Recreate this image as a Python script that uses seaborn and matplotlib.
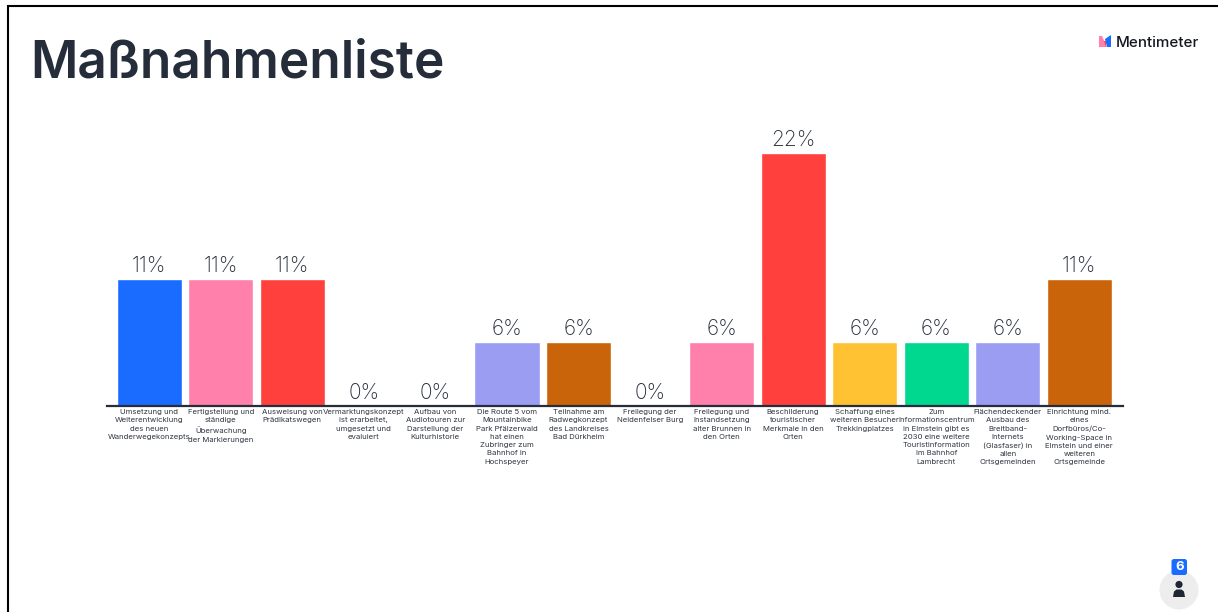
import matplotlib
matplotlib.use("Agg")
import matplotlib.pyplot as plt
from matplotlib.patches import Circle, FancyBboxPatch, Polygon
import pandas as pd
import seaborn as sns

options = [
    "Umsetzung und\nWeiterentwicklung\ndes neuen\nWanderwegekonzepts",
    "Fertigstellung und\nständige\nÜberwachung\nder Markierungen",
    "Ausweisung von\nPrädikatswegen",
    "Vermarktungskonzept\nist erarbeitet,\numgesetzt und\nevaluiert",
    "Aufbau von\nAudiotouren zur\nDarstellung der\nKulturhistorie",
    "Die Route 5 vom\nMountainbike\nPark Pfälzerwald\nhat einen\nZubringer zum\nBahnhof in\nHochspeyer",
    "Teilnahme am\nRadwegkonzept\ndes Landkreises\nBad Dürkheim",
    "Freilegung der\nNeidenfelser Burg",
    "Freilegung und\nInstandsetzung\nalter Brunnen in\nden Orten",
    "Beschilderung\ntouristischer\nMerkmale in den\nOrten",
    "Schaffung eines\nweiteren Besucher\nTrekkingplatzes",
    "Zum\nInformationscentrum\nin Elmstein gibt es\n2030 eine weitere\nTouristinformation\nim Bahnhof\nLambrecht",
    "Flächendeckender\nAusbau des\nBreitband-\nInternets\n(Glasfaser) in\nallen\nOrtsgemeinden",
    "Einrichtung mind.\neines\nDorfbüros/Co-\nWorking-Space in\nElmstein und einer\nweiteren\nOrtsgemeinde",
]
shares = [11.1, 11.1, 11.1, 0, 0, 5.6, 5.6, 0, 5.6, 22.2, 5.6, 5.6, 5.6, 11.1]
bar_colors = [
    "#196cff", "#ff80ab", "#ff403d", "#ffc233", "#00d88f", "#9a9df2", "#c9640a",
    "#196cff", "#ff80ab", "#ff403d", "#ffc233", "#00d88f", "#9a9df2", "#c9640a",
]
title = "Maßnahmenliste"
brand = "Mentimeter"
participants = "6"

INK = "#262d3a"
W, H = 1218, 612

sns.set_theme(style="white")
plt.rcParams["font.family"] = ["Inter", "DejaVu Sans"]

fig = plt.figure(figsize=(W / 100, H / 100), dpi=100, facecolor="white")

# Bar chart area: baseline at y=406, 22.2 % reaches y=154
left, right, top, bottom = 107, 1123, 134, 405.6
ax = fig.add_axes([left / W, 1 - bottom / H, (right - left) / W, (bottom - top) / H])
df = pd.DataFrame({"option": options, "share": shares})
sns.barplot(data=df, x="option", y="share", hue="option", palette=bar_colors,
            width=0.912, legend=False, saturation=1, ax=ax)
ax.set_xlim(-0.59, 13.61)
ax.set_ylim(0, 22.2 * (bottom - top) / 252.6)
ax.set_xlabel("")
ax.set_ylabel("")
ax.set_yticks([])
ax.set_facecolor("none")
sns.despine(ax=ax, left=True)
ax.spines["bottom"].set_color(INK)
ax.spines["bottom"].set_linewidth(1.6)
ax.tick_params(axis="x", length=0, pad=2.5)
ax.set_xticks(range(len(options)))
ax.set_xticklabels(options, fontsize=5.6, color="#2f3541", linespacing=1.45, ha="center")

for i, v in enumerate(shares):
    ax.annotate(f"{v:.0f}%", (i, v), xytext=(0, 2.2), textcoords="offset points",
                ha="center", va="bottom", fontsize=15, color=INK,
                fontweight="light")

# Overlay in pixel coordinates for the slide furniture
ov = fig.add_axes([0, 0, 1, 1], zorder=5)
ov.set_xlim(0, W)
ov.set_ylim(H, 0)
ov.axis("off")
ov.patch.set_alpha(0)

ov.plot([8, 8, W], [H, 5.5, 5.5], color="black", lw=1.5, solid_joinstyle="miter")
ov.text(30, 78, title, fontsize=37, color=INK, fontweight="semibold", va="baseline", ha="left")

# Brand mark and name
ov.add_patch(Polygon([(1099, 47), (1099, 36), (1102, 36), (1107, 47)], color="#ff80ab", lw=0))
ov.add_patch(Polygon([(1104, 41), (1106, 41), (1106, 47)], color="#ff403d", lw=0))
ov.add_patch(Polygon([(1105, 39), (1111, 35), (1111, 47), (1107, 47)], color="#196cff", lw=0))
ov.text(1116, 47, brand, fontsize=10.9, color="#14171f", va="baseline", ha="left", fontweight="medium")

# Participant counter
ov.add_patch(Circle((1179, 590), 19.5, color="#ededed", lw=0))
ov.add_patch(Circle((1179, 584.5), 3.6, color="#1f2633", lw=0))
ov.add_patch(Polygon([(1173, 597), (1174, 591.5), (1176.5, 589.5), (1181.5, 589.5),
                      (1184, 591.5), (1185, 597)], color="#1f2633", lw=0))
ov.add_patch(FancyBboxPatch((1171.5, 559), 15.5, 16, boxstyle="round,pad=0,rounding_size=2.5",
                            color="#196cff", lw=0))
ov.text(1179.3, 567.2, participants, fontsize=9.5, color="white", ha="center", va="center", fontweight="bold")

fig.savefig("out.png", dpi=100, facecolor="white")
